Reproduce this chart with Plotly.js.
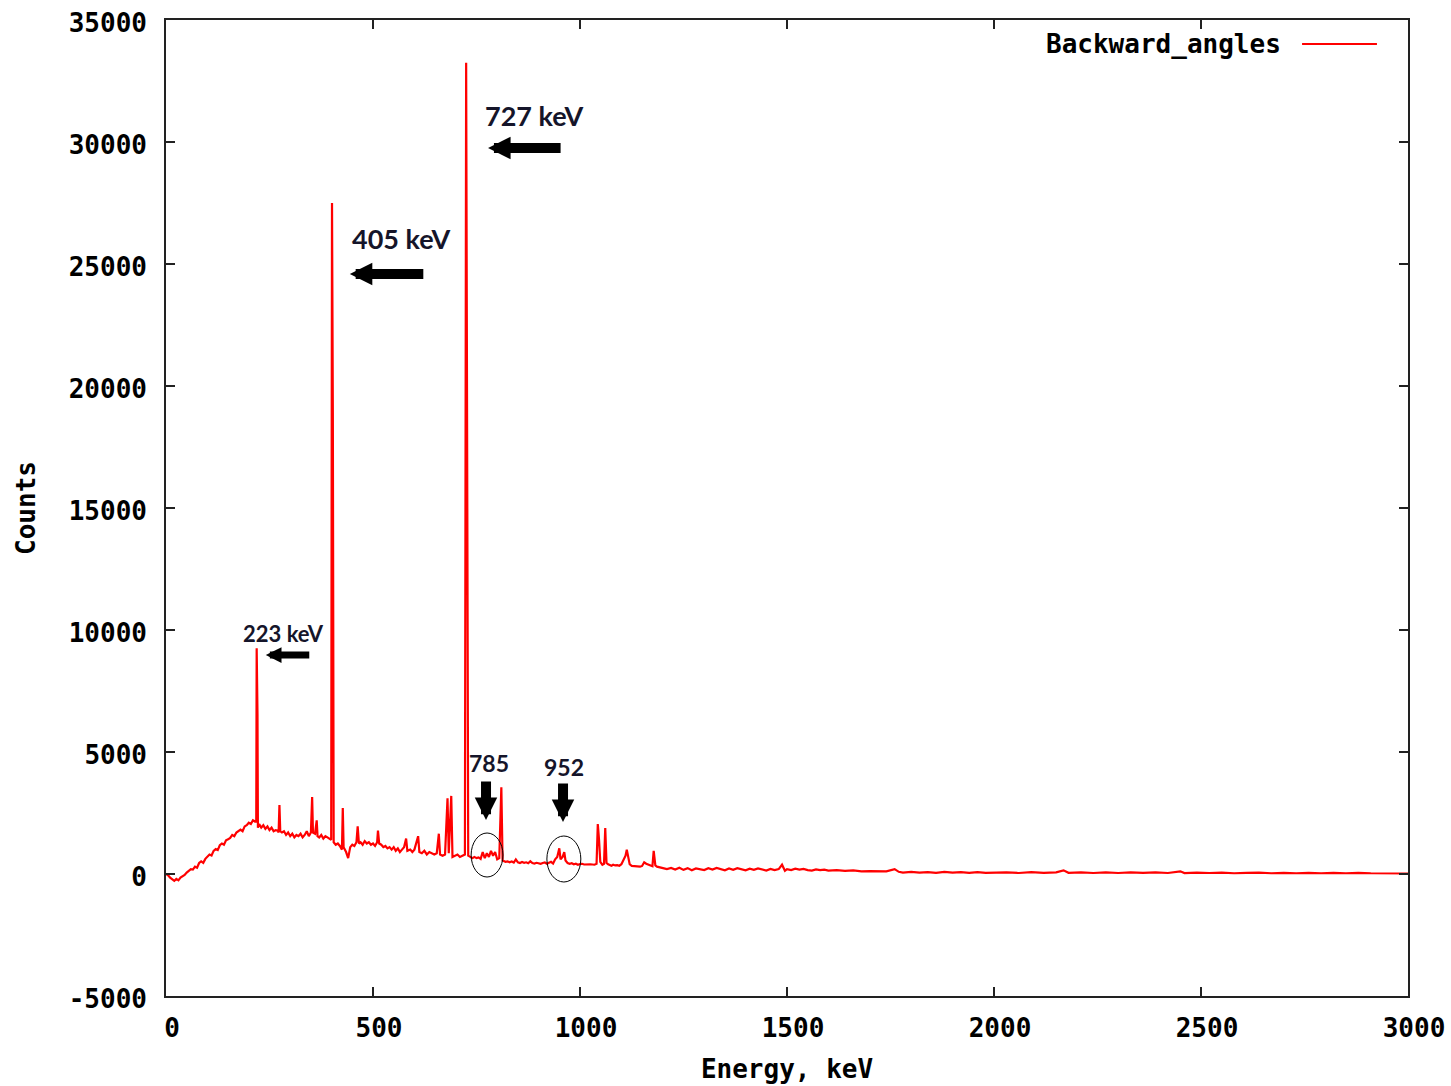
<!DOCTYPE html>
<html>
<head>
<meta charset="utf-8">
<script src="https://cdn.plot.ly/plotly-3.0.1.min.js"></script>
<style>html,body{margin:0;padding:0;background:#fff;}#chart{width:1451px;height:1086px;}</style>
</head>
<body>
<div id="chart"></div>
<script>
// Spectrum (energy in keV, counts)
const energy_keV = [
  0,5,10,15,20,25,30,35,40,45,50,55,60,65,70,75,80,85,90,95,100,105,110,115,120,125,130,135,140,145,150,155,160,165,170,175,180,185,190,195,200,205,210,215,
  218,219,221,222,225,230,235,240,245,250,255,260,265,270,272,274,276,280,285,290,295,300,305,310,315,320,325,330,335,340,345,350,353,355,360,364,366,370,375,380,385,390,395,399,
  401,403,405,410,415,420,425,427,429,435,440,445,450,455,460,463,466,470,475,480,485,490,495,500,505,510,512,515,520,525,530,535,540,545,550,555,560,565,570,575,580,583,590,595,600,605,609,612,618,624,630,636,642,648,654,659,662,668,674,680,683,689,692,698,704,710,716,722,
  725,727,730,735,740,745,750,755,760,765,770,775,780,785,790,795,800,805,810,813,820,825,830,835,840,845,850,855,860,865,870,875,880,885,890,895,900,905,910,915,920,925,930,935,940,945,950,953,958,962,965,970,975,980,985,990,995,1000,
  1005,1010,1015,1020,1025,1030,1035,1040,1043,1046,1049,1054,1058,1061,1064,1068,1072,1076,1080,1085,1090,1095,1100,1105,1110,1113,1116,1120,1125,1130,1135,1140,1145,1150,1155,1160,1165,1170,1175,1178,1182,1186,1190,
  1200,1210,1220,1230,1240,1250,1260,1270,1280,1290,1300,1310,1320,1330,1340,1350,1360,1370,1380,1390,1400,1410,1420,1430,1440,1450,1460,1470,1480,1488,1495,1500,1510,1520,1530,1540,1550,1560,1570,1580,1590,1600,1620,1640,1660,1680,1700,1720,1740,1760,1770,1780,1800,1820,1840,1860,1880,1900,1920,1940,1960,1980,2000,
  2030,2060,2090,2120,2150,2168,2180,2210,2240,2270,2300,2330,2360,2390,2420,2450,2460,2490,2520,2550,2580,2610,2640,2670,2700,2730,2760,2790,2820,2850,2880,2910,2940,2970,3000
];
const counts = [
  0,-50,-150,-220,-280,-200,-260,-150,-100,-40,60,130,200,180,300,260,450,520,460,620,700,800,760,950,1020,980,1180,1250,1200,1380,1420,1480,1600,1550,1700,1780,1820,1750,1950,2000,2100,2050,2200,2150,
  2150,9250,6550,1900,2050,1900,2000,1850,1950,1800,1900,1750,1800,1780,1700,2830,1750,1700,1750,1600,1700,1550,1650,1500,1600,1550,1650,1500,1600,1750,1550,1700,3150,1700,1650,2200,1550,1500,1600,1450,1550,1500,1450,1400,
  27500,18900,1300,1200,1250,1150,1000,2700,1100,900,650,1100,1200,1150,1300,1950,1250,1300,1200,1350,1250,1300,1200,1250,1150,1300,1780,1250,1200,1100,1150,1050,1100,1000,1100,950,1050,900,1000,1100,1450,950,1000,900,1000,1300,1550,900,850,950,800,900,850,800,850,1650,800,750,800,3100,850,3200,700,750,800,700,750,800,
  33250,15300,750,700,650,700,650,680,620,900,650,850,700,950,750,900,600,650,3550,550,500,520,480,510,470,600,480,450,490,460,480,440,520,450,430,460,440,420,450,470,420,450,500,430,600,700,1050,600,700,900,550,450,420,440,400,420,380,410,
  420,390,400,380,400,390,380,420,2050,1400,500,380,420,1880,450,400,380,340,380,350,360,340,400,550,750,1000,700,400,330,320,340,310,300,330,480,420,380,350,320,950,350,300,280,
  260,200,250,180,260,170,240,150,230,190,160,240,180,250,210,150,230,170,240,190,150,220,170,230,180,140,210,160,200,380,130,200,160,220,180,210,160,140,190,160,180,140,160,130,150,110,120,100,110,200,90,60,90,60,80,50,90,60,80,50,80,50,70,
  70,40,80,50,70,150,50,70,40,70,40,70,50,70,40,110,40,60,40,60,30,50,60,30,50,30,50,30,50,30,50,30,20,40,20
];

const seriesName = 'Backward_angles';
const xTicks = [0, 500, 1000, 1500, 2000, 2500, 3000];
const yTicks = [-5000, 0, 5000, 10000, 15000, 20000, 25000, 30000, 35000];

// Peak labels and their arrows
const peakLabels = ['223 keV', '405 keV', '727 keV', '785', '952'];
const labelX = [285, 568, 889, 780, 961];
const labelY = [9877, 26025, 31066, 4549, 4385];
const labelSize = [22, 27, 27, 23, 23];
const arrowTipX = [241, 444, 778, 773, 959];
const arrowTipY = [8975, 24590, 29754, 2213, 2131];

const monoFont = 'DejaVu Sans Mono';
const axisFont = {family: monoFont, size: 26, color: '#000', weight: 'bold'};

const trace = {
  x: energy_keV, y: counts, type: 'scatter', mode: 'lines', name: seriesName,
  line: {color: '#ff0000', width: 2.2}, showlegend: false, hoverinfo: 'x+y'
};

const annotations = [];
for (let i = 0; i < peakLabels.length; i++) {
  annotations.push({
    x: labelX[i], y: labelY[i], xref: 'x', yref: 'y', text: peakLabels[i], showarrow: false,
    xanchor: 'center', yanchor: 'middle',
    font: {family: 'Lato', size: labelSize[i], color: '#15152a', weight: 'bold'}
  });
}
const arrowW = [7, 10, 10, 10, 10];
const arrowAx = [45, 75, 74, 0, 0];
const arrowAy = [0, 0, 0, -40, -40];
for (let i = 0; i < arrowTipX.length; i++) {
  annotations.push({
    x: arrowTipX[i], y: arrowTipY[i], xref: 'x', yref: 'y', text: '', showarrow: true,
    ax: arrowAx[i], ay: arrowAy[i], arrowhead: 2, arrowsize: 0.45, arrowwidth: arrowW[i],
    arrowcolor: '#000', standoff: 0
  });
}
// legend (gnuplot style: text then sample)
annotations.push({
  x: 0.8994, y: 0.9754, xref: 'paper', yref: 'paper', text: seriesName, showarrow: false,
  xanchor: 'right', yanchor: 'middle', font: {family: monoFont, size: 26, color: '#000', weight: 'bold'}
});

const shapes = [
  {type: 'circle', xref: 'x', yref: 'y', x0: 737, x1: 814, y0: -123, y1: 1680, line: {color: '#000', width: 1}},
  {type: 'circle', xref: 'x', yref: 'y', x0: 920, x1: 1002, y0: -328, y1: 1557, line: {color: '#000', width: 1}},
  {type: 'line', xref: 'paper', yref: 'paper', x0: 0.9147, x1: 0.975, y0: 0.9754, y1: 0.9754, line: {color: '#ff0000', width: 1.8}}
];

const layout = {
  width: 1451, height: 1086,
  margin: {l: 166, r: 43, t: 20, b: 90},
  paper_bgcolor: '#fff', plot_bgcolor: '#fff',
  showlegend: false,
  xaxis: {
    range: [0, 3000], tickvals: xTicks, ticktext: xTicks.map(String),
    ticks: 'inside', ticklen: 9, tickwidth: 1.5, tickcolor: '#222', mirror: 'allticks',
    showline: true, linecolor: '#222', linewidth: 1.8, showgrid: false, zeroline: false,
    tickfont: axisFont, ticklabelstandoff: 8, ticklabelshift: 6,
    title: {text: 'Energy, keV', font: axisFont, standoff: 18}
  },
  yaxis: {
    range: [-5000, 35000], tickvals: yTicks, ticktext: yTicks.map(String),
    ticks: 'inside', ticklen: 9, tickwidth: 1.5, tickcolor: '#222', mirror: 'allticks',
    showline: true, linecolor: '#222', linewidth: 1.8, showgrid: false, zeroline: false,
    tickfont: axisFont, ticklabelstandoff: 12, ticklabelshift: 3,
    title: {text: 'Counts', font: axisFont, standoff: 26}
  },
  annotations: annotations,
  shapes: shapes
};

Plotly.newPlot('chart', [trace], layout, {displayModeBar: false, staticPlot: true});
</script>
</body>
</html>
